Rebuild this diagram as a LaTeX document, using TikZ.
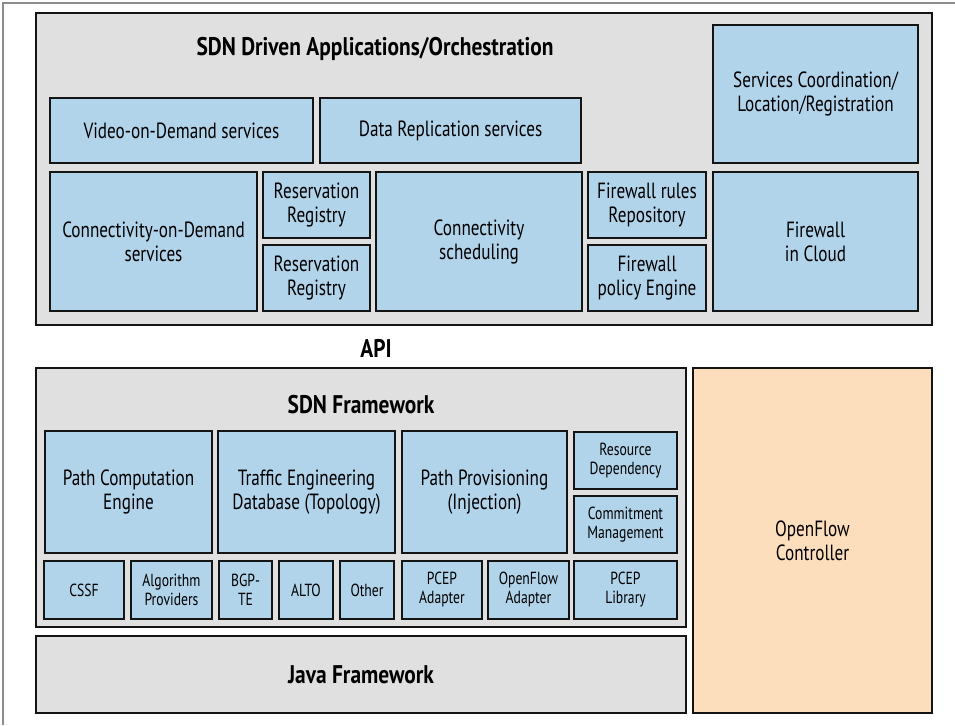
\documentclass[tikz,border=0pt]{standalone}
\usepackage{fontspec}
\setmainfont{PT Sans}[FakeStretch=0.78]
\newfontfamily\ttlfont{PT Sans}[FakeStretch=0.84]
\definecolor{gfill}{HTML}{E0E0E0}
\definecolor{bfill}{HTML}{B1D4EA}
\definecolor{ofill}{HTML}{FCDEBD}
\definecolor{edge}{HTML}{141414}
\definecolor{frame}{HTML}{8C8C8C}
\newcommand\bx[7]{\node[#6, anchor=north west, minimum width={(#4-#2)*1pt}, minimum height={(#5-#3)*1pt}] (#1) at (#2,#3) {#7};}
\begin{document}
\begin{tikzpicture}[x=1pt,y=-1pt,
  base/.style={draw=edge, line width=2.8pt, inner sep=0pt, outer sep=0pt, align=center},
  graybox/.style={base, fill=gfill},
  bluebox/.style={base, fill=bfill, font=\fontsize{22}{24}\selectfont},
  smallbox/.style={base, fill=bfill, font=\fontsize{17.5}{19}\selectfont},
  orangebox/.style={base, fill=ofill, font=\fontsize{22}{24}\selectfont},
  title/.style={font=\ttlfont\fontsize{25.5}{28}\selectfont\bfseries, inner sep=0pt}]
\useasboundingbox (0,0) rectangle (955,725);
\coordinate (fa) at (3,725);
\coordinate (fb) at (3,3);
\coordinate (fc) at (955,3);
\draw[frame, line width=2pt] (fa) -- (fb) -- (fc);
% top block
\bx{apps}{36}{13}{932}{325}{graybox}{}
\node[title] (appst) at (375,48.5) {SDN Driven Applications/Orchestration};
\bx{vod}{50}{98}{313}{163}{bluebox}{Video-on-Demand services}
\bx{drs}{320}{98}{581}{163}{bluebox}{Data Replication services}
\bx{scr}{713}{25}{918}{163}{bluebox}{Services Coordination/\\Location/Registration}
\bx{cod}{50}{172}{257}{311}{bluebox}{Connectivity-on-Demand\\services}
\bx{rr1}{263}{172}{370}{238}{bluebox}{Reservation\\Registry}
\bx{rr2}{263}{245}{370}{311}{bluebox}{Reservation\\Registry}
\bx{csch}{376}{172}{582}{311}{bluebox}{Connectivity\\scheduling}
\bx{fwr}{588}{172}{706}{238}{bluebox}{Firewall rules\\Repository}
\bx{fwp}{588}{245}{706}{311}{bluebox}{Firewall\\policy Engine}
\bx{fwc}{713}{172}{918}{311}{bluebox}{Firewall\\in Cloud}
\node[title] (api) at (376,348) {API};
% SDN framework
\bx{sdnf}{36}{368}{686}{627}{graybox}{}
\node[title] (sdnft) at (361,405) {SDN Framework};
\bx{pce}{45}{431}{212}{553}{bluebox}{Path Computation\\Engine}
\bx{ted}{218}{431}{395}{553}{bluebox}{Traffic Engineering\\Database (Topology)}
\bx{ppi}{402}{431}{567}{553}{bluebox}{Path Provisioning\\(Injection)}
\bx{rdep}{574}{432}{677}{489}{smallbox}{Resource\\Dependency}
\bx{cman}{574}{496}{677}{553}{smallbox}{Commitment\\Management}
\bx{cssf}{44}{561}{124}{619}{smallbox}{CSSF}
\bx{algp}{131}{561}{212}{619}{smallbox}{Algorithm\\Providers}
\bx{bgp}{219}{561}{272}{619}{smallbox}{BGP-\\TE}
\bx{alto}{279}{561}{333}{619}{smallbox}{ALTO}
\bx{oth}{340}{561}{394}{619}{smallbox}{Other}
\bx{pcepa}{402}{561}{482}{619}{smallbox}{PCEP\\Adapter}
\bx{ofa}{488}{561}{569}{619}{smallbox}{OpenFlow\\Adapter}
\bx{pcepl}{574}{561}{677}{619}{smallbox}{PCEP\\Library}
% Java framework
\bx{java}{36}{636}{686}{713}{graybox}{}
\node[title] (javat) at (361,675) {Java Framework};
% OpenFlow controller
\bx{ofc}{693}{368}{932}{713}{orangebox}{OpenFlow\\Controller}
\end{tikzpicture}
\end{document}
